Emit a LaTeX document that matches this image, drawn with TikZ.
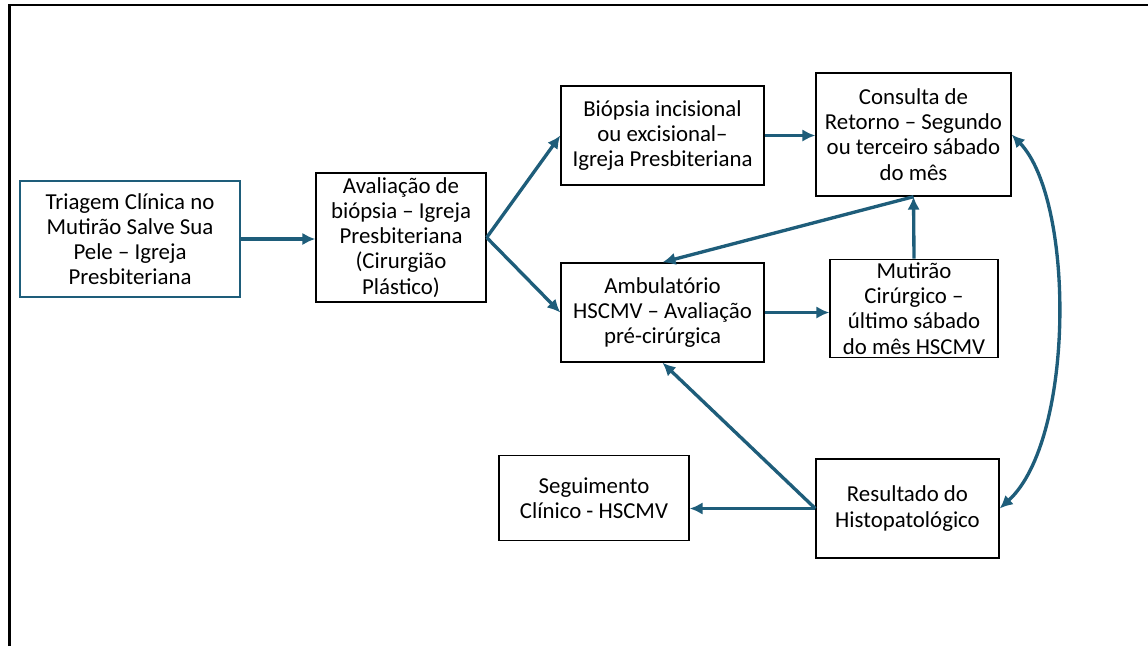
\documentclass[tikz,border=0pt]{standalone}
\usepackage{fontspec}
\setmainfont{Carlito}
\usepackage{tikz}
\usetikzlibrary{arrows.meta}

\definecolor{flowteal}{RGB}{30,93,122}

\begin{document}
\begin{tikzpicture}[x=0.02cm,y=-0.02cm,>=Latex,
  box/.style={draw=black,line width=0.8pt,align=center,inner sep=2pt,font=\fontsize{13}{14.3}\selectfont},
  flow/.style={draw=flowteal,line width=1.9pt,-{Latex[length=2.6mm,width=2.5mm]}}]
\useasboundingbox (0,0) rectangle (1148,646);
\draw[line width=1.4pt] (9.5,646) -- (9.5,5) -- (1148,5);
\node[box,draw=flowteal,minimum width=220*0.02cm,minimum height=116*0.02cm] (triagem) at (130,239) {Triagem Clínica no\\Mutirão Salve Sua\\Pele – Igreja\\Presbiteriana};
\node[box,minimum width=170*0.02cm,minimum height=129*0.02cm] (avaliacao) at (401,237.5) {Avaliação de\\biópsia – Igreja\\Presbiteriana\\(Cirurgião\\Plástico)};
\node[box,minimum width=203*0.02cm,minimum height=99*0.02cm] (biopsia) at (662.5,135.5) {Biópsia incisional\\ou excisional–\\Igreja Presbiteriana};
\node[box,minimum width=195*0.02cm,minimum height=123*0.02cm] (consulta) at (913.5,134.5) {Consulta de\\Retorno – Segundo\\ou terceiro sábado\\do mês};
\node[box,minimum width=203*0.02cm,minimum height=99*0.02cm] (ambulatorio) at (662.5,312.5) {Ambulatório\\HSCMV – Avaliação\\pré-cirúrgica};
\node[box,minimum width=168*0.02cm,minimum height=97*0.02cm] (mutirao) at (914,308.5) {Mutirão\\Cirúrgico –\\último sábado\\do mês HSCMV};
\node[box,minimum width=190*0.02cm,minimum height=85*0.02cm] (seguimento) at (594,498) {Seguimento\\Clínico - HSCMV};
\node[box,minimum width=183*0.02cm,minimum height=99*0.02cm] (resultado) at (907.5,508.5) {Resultado do\\Histopatológico};
% connectors
\draw[flow] (triagem.east) -- (avaliacao.west |- triagem.east);
\draw[flow] (avaliacao.east) -- (biopsia.west);
\draw[flow] (avaliacao.east) -- (ambulatorio.west);
\draw[flow] (biopsia.east) -- (consulta.west |- biopsia.east);
\draw[flow] (consulta.south) -- (ambulatorio.north);
\draw[flow] (mutirao.north) -- (consulta.south);
\draw[flow] (ambulatorio.east) -- (mutirao.west |- ambulatorio.east);
\draw[flow] (resultado.west) -- (ambulatorio.south);
\draw[flow] (resultado.west) -- (seguimento.east |- resultado.west);
\draw[flow,{Latex[length=2.6mm,width=2.5mm]}-{Latex[length=2.6mm,width=2.5mm]}] (consulta.east) .. controls (1075,200) and (1075,440) .. (resultado.east);
\end{tikzpicture}
\end{document}
